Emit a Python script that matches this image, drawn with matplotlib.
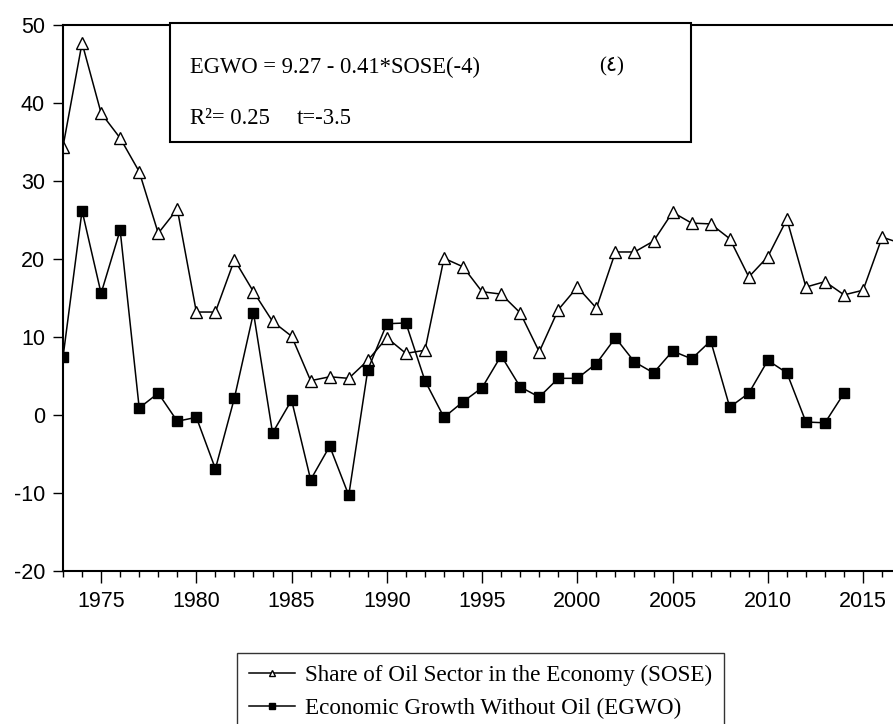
import matplotlib.pyplot as plt
from matplotlib.patches import Rectangle

plt.rcParams['axes.unicode_minus'] = False

# Data
years_sose = list(range(1973, 2018))
sose = [34.4, 47.7, 38.7, 35.5, 31.2, 23.3, 26.4, 13.2, 13.2, 19.9,
        15.8, 12.0, 10.1, 4.4, 4.9, 4.7, 7.0, 9.9, 7.9, 8.3,
        20.1, 19.0, 15.8, 15.5, 13.1, 8.1, 13.5, 16.4, 13.7, 20.9,
        20.9, 22.3, 26.0, 24.6, 24.5, 22.6, 17.7, 20.3, 25.1, 16.4,
        17.1, 15.4, 16.0, 22.8, 22.0]

years_egwo = list(range(1973, 2015))
egwo = [7.4, 26.2, 15.6, 23.7, 0.9, 2.8, -0.8, -0.3, -6.9, 2.2,
        13.1, -2.3, 1.9, -8.3, -4.0, -10.3, 5.8, 11.7, 11.8, 4.4,
        -0.3, 1.7, 3.5, 7.6, 3.6, 2.3, 4.7, 4.7, 6.6, 9.9,
        6.8, 5.4, 8.2, 7.2, 9.5, 1.0, 2.8, 7.0, 5.4, -0.9,
        -1.0, 2.8]

W, H = 893, 724
fig = plt.figure(figsize=(W / 100, H / 100), dpi=100)
ax = fig.add_axes([63 / W, 1 - 571 / H, 830 / W, 546 / H])

ax.plot(years_sose, sose, color='black', lw=1.1, marker='^', ms=8,
        mfc='white', mec='black', mew=1.0,
        label='Share of Oil Sector in the Economy (SOSE)')
ax.plot(years_egwo, egwo, color='black', lw=1.1, marker='s', ms=6.5,
        mfc='black', mec='black', label='Economic Growth Without Oil (EGWO)')

ax.set_xlim(1973, 1973 + 830 / 19.05)
ax.set_ylim(-20, 50)
ax.set_yticks([-20, -10, 0, 10, 20, 30, 40, 50])
ax.set_xticks([1975, 1980, 1985, 1990, 1995, 2000, 2005, 2010, 2015])
ax.set_xticks(range(1973, 2017), minor=True)

for s in ['left', 'bottom', 'top']:
    ax.spines[s].set_linewidth(1.5)
ax.spines['right'].set_visible(False)

tick_font = 'Liberation Sans'
ax.tick_params(axis='y', direction='out', length=7, width=1, pad=6,
               labelsize=15.5, labelfontfamily=tick_font)
ax.tick_params(axis='x', which='major', direction='out', length=8.5, width=1,
               pad=6, labelsize=15.5, labelfontfamily=tick_font)
ax.tick_params(axis='x', which='minor', direction='out', length=4.5, width=1)

# equation box
box = Rectangle((170 / W, 1 - 142 / H), 521 / W, 119 / H, transform=fig.transFigure,
                facecolor='white', edgecolor='black', lw=1.5, zorder=5)
fig.patches.append(box)
serif = ['Liberation Serif', 'DejaVu Serif', 'DejaVu Sans']
fig.text(190 / W, 1 - 67 / H, 'EGWO = 9.27 - 0.41*SOSE(-4)', family=serif,
         fontsize=16.3, va='center', ha='left', zorder=6)
fig.text(612 / W, 1 - 67 / H, '(\u0664)', family=serif,
         fontsize=15, va='center', ha='center', zorder=6)
fig.text(190 / W, 1 - 118 / H, 'R\u00b2= 0.25', family=serif,
         fontsize=16.3, va='center', ha='left', zorder=6)
fig.text(297 / W, 1 - 118 / H, 't=-3.5', family=serif,
         fontsize=16.3, va='center', ha='left', zorder=6)

leg = fig.legend(loc='upper left', bbox_to_anchor=(237 / W, 1 - 653 / H),
                 prop={'family': 'Liberation Serif', 'size': 16.7},
                 frameon=True, fancybox=False, edgecolor='black',
                 markerscale=0.6, handlelength=2.0, handletextpad=0.43,
                 labelspacing=0.5, borderpad=0.5, borderaxespad=0)
leg.get_frame().set_linewidth(1.0)

fig.savefig('out.png', dpi=100)
